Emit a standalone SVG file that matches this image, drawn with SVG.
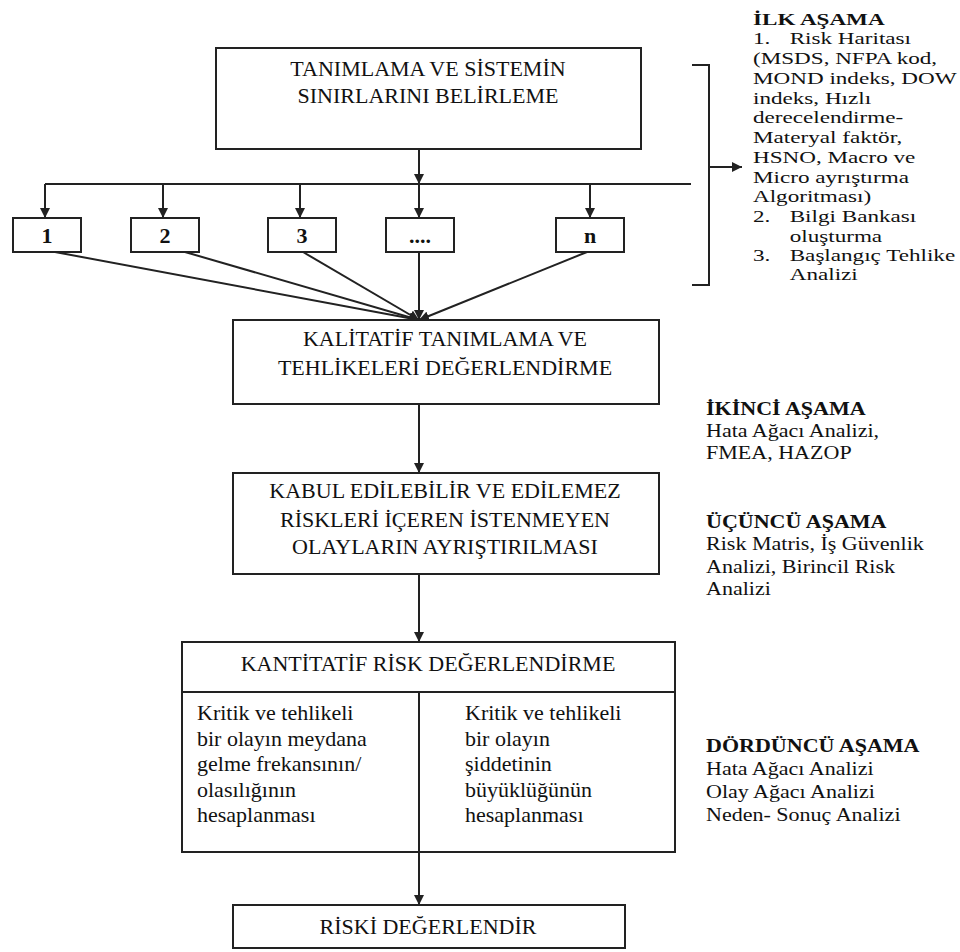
<svg xmlns="http://www.w3.org/2000/svg" width="960" height="952" viewBox="0 0 960 952">
<style>
.box{fill:#fff;stroke:#222;stroke-width:2}
.ln{fill:none;stroke:#222;stroke-width:2}
.t{font-family:"Liberation Serif","Times New Roman",serif;font-size:22px;fill:#111}
.s{font-family:"Liberation Serif","Times New Roman",serif;font-size:17px;fill:#111}
.m{font-family:"Liberation Serif","Times New Roman",serif;font-size:19px;fill:#111}
.c{text-anchor:middle}
.b{font-weight:bold}
</style>
<defs>
<marker id="ah" viewBox="0 0 10 10" refX="10" refY="5" markerWidth="10" markerHeight="10" markerUnits="userSpaceOnUse" orient="auto">
<path d="M0,0 L10,5 L0,10 Z" fill="#222"/>
</marker>
</defs>
<rect width="960" height="952" fill="#fff"/>
<g id="connectors">
<line class="ln" x1="419" y1="149" x2="419" y2="184" marker-end="url(#ah)"/>
<line class="ln" x1="45" y1="184" x2="691" y2="184"/>
<line class="ln" x1="45" y1="184" x2="45" y2="218" marker-end="url(#ah)"/>
<line class="ln" x1="163" y1="184" x2="163" y2="218" marker-end="url(#ah)"/>
<line class="ln" x1="300" y1="184" x2="300" y2="218" marker-end="url(#ah)"/>
<line class="ln" x1="419" y1="184" x2="419" y2="218" marker-end="url(#ah)"/>
<line class="ln" x1="590" y1="184" x2="590" y2="218" marker-end="url(#ah)"/>
<line class="ln" x1="55" y1="252" x2="419" y2="320" marker-end="url(#ah)"/>
<line class="ln" x1="185" y1="252" x2="419" y2="320" marker-end="url(#ah)"/>
<line class="ln" x1="303" y1="252" x2="419" y2="320" marker-end="url(#ah)"/>
<line class="ln" x1="419" y1="252" x2="419" y2="320" marker-end="url(#ah)"/>
<line class="ln" x1="587" y1="252" x2="419" y2="320" marker-end="url(#ah)"/>
<line class="ln" x1="419" y1="404" x2="419" y2="473" marker-end="url(#ah)"/>
<line class="ln" x1="419" y1="574" x2="419" y2="642" marker-end="url(#ah)"/>
<line class="ln" x1="419" y1="852" x2="419" y2="905" marker-end="url(#ah)"/>
<polyline class="ln" points="692,65 709,65 709,285 692,285"/>
<line class="ln" x1="709" y1="167" x2="742" y2="167" marker-end="url(#ah)"/>
</g>
<g id="n-top">
<rect class="box" x="216" y="48" width="425" height="101"/>
<text class="t c" x="428" y="76">TANIMLAMA VE SİSTEMİN</text>
<text class="t c" x="428" y="103">SINIRLARINI BELİRLEME</text>
</g>
<g id="n-1"><rect class="box" x="13" y="218" width="68" height="34"/><text class="t c b" x="47" y="243">1</text></g>
<g id="n-2"><rect class="box" x="131" y="218" width="68" height="34"/><text class="t c b" x="165" y="243">2</text></g>
<g id="n-3"><rect class="box" x="268" y="218" width="68" height="34"/><text class="t c b" x="302" y="243">3</text></g>
<g id="n-dots"><rect class="box" x="386" y="218" width="68" height="34"/><text class="t c b" x="420" y="243">....</text></g>
<g id="n-n"><rect class="box" x="556" y="218" width="68" height="34"/><text class="t c b" x="590" y="243">n</text></g>
<g id="n-kalitatif">
<rect class="box" x="233" y="320" width="426" height="84"/>
<text class="t c" x="445" y="346">KALİTATİF TANIMLAMA VE</text>
<text class="t c" x="445" y="375">TEHLİKELERİ DEĞERLENDİRME</text>
</g>
<g id="n-kabul">
<rect class="box" x="233" y="473" width="426" height="101"/>
<text class="t c" x="445" y="498">KABUL EDİLEBİLİR VE EDİLEMEZ</text>
<text class="t c" x="445" y="527">RİSKLERİ İÇEREN İSTENMEYEN</text>
<text class="t c" x="445" y="554">OLAYLARIN AYRIŞTIRILMASI</text>
</g>
<g id="n-kantitatif">
<rect class="box" x="182" y="642" width="493" height="210"/>
<line class="ln" x1="182" y1="692" x2="675" y2="692"/>
<line class="ln" x1="419" y1="692" x2="419" y2="852"/>
<text class="t c" x="428" y="671">KANTİTATİF RİSK DEĞERLENDİRME</text>
<text class="t" x="197" y="720">Kritik ve tehlikeli</text>
<text class="t" x="197" y="746">bir olayın meydana</text>
<text class="t" x="197" y="771">gelme frekansının/</text>
<text class="t" x="197" y="797">olasılığının</text>
<text class="t" x="197" y="822">hesaplanması</text>
<text class="t" x="465" y="720">Kritik ve tehlikeli</text>
<text class="t" x="465" y="746">bir olayın</text>
<text class="t" x="465" y="771">şiddetinin</text>
<text class="t" x="465" y="797">büyüklüğünün</text>
<text class="t" x="465" y="822">hesaplanması</text>
</g>
<g id="n-riski">
<rect class="box" x="233" y="905" width="392" height="43"/>
<text class="t c" x="428" y="934">RİSKİ DEĞERLENDİR</text>
</g>
<g id="n-ilk" transform="translate(753,0) scale(1.36,1)">
<text class="s b" x="0" y="25">İLK AŞAMA</text>
<text class="s" x="0" y="44">1.</text><text class="s" x="27" y="44">Risk Haritası</text>
<text class="s" x="0" y="64">(MSDS, NFPA kod,</text>
<text class="s" x="0" y="84">MOND indeks, DOW</text>
<text class="s" x="0" y="104">indeks, Hızlı</text>
<text class="s" x="0" y="123">derecelendirme-</text>
<text class="s" x="0" y="143">Materyal faktör,</text>
<text class="s" x="0" y="163">HSNO, Macro ve</text>
<text class="s" x="0" y="183">Micro ayrıştırma</text>
<text class="s" x="0" y="202">Algoritması)</text>
<text class="s" x="0" y="222">2.</text><text class="s" x="27" y="222">Bilgi Bankası</text>
<text class="s" x="27" y="242">oluşturma</text>
<text class="s" x="0" y="261">3.</text><text class="s" x="27" y="261">Başlangıç Tehlike</text>
<text class="s" x="27" y="280">Analizi</text>
</g>
<g id="n-ikinci" transform="translate(706,0) scale(1.16,1)">
<text class="m b" x="0" y="415">İKİNCİ AŞAMA</text>
<text class="m" x="0" y="437">Hata Ağacı Analizi,</text>
<text class="m" x="0" y="459">FMEA, HAZOP</text>
</g>
<g id="n-ucuncu" transform="translate(706,0) scale(1.16,1)">
<text class="m b" x="0" y="528">ÜÇÜNCÜ AŞAMA</text>
<text class="m" x="0" y="550">Risk Matris, İş Güvenlik</text>
<text class="m" x="0" y="573">Analizi, Birincil Risk</text>
<text class="m" x="0" y="595">Analizi</text>
</g>
<g id="n-dorduncu" transform="translate(706,0) scale(1.16,1)">
<text class="m b" x="0" y="752">DÖRDÜNCÜ AŞAMA</text>
<text class="m" x="0" y="775">Hata Ağacı Analizi</text>
<text class="m" x="0" y="798">Olay Ağacı Analizi</text>
<text class="m" x="0" y="821">Neden- Sonuç Analizi</text>
</g>
</svg>
